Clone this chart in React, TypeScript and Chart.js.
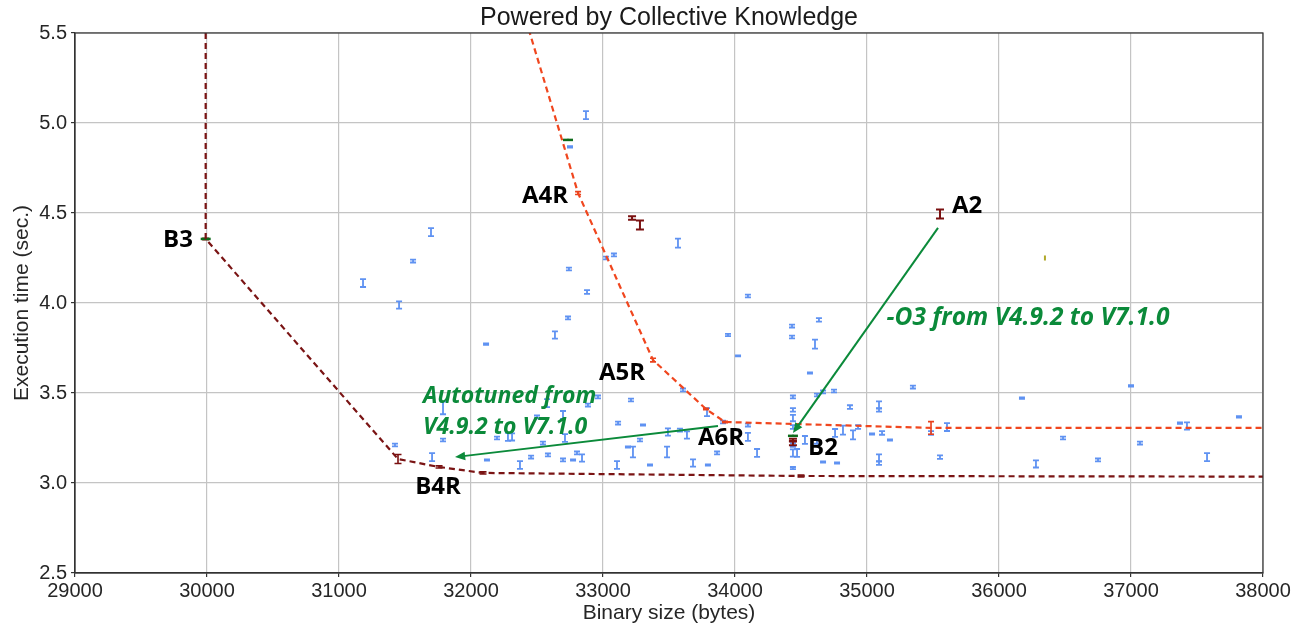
import { useEffect, useRef } from "react"
import { Chart, registerables } from "chart.js"

Chart.register(...registerables)

// blue: all measured configurations (size, time, half error)
const blueX = [
  31697, 31561, 31182, 31455, 32114, 32742, 32879, 32735, 32636, 33023, 33083, 32871, 32750, 33568, 34098,
  34432, 34432, 34636, 34606, 33947, 34023, 34568, 35348, 37000, 36174, 37818, 36485, 36280, 36750, 37068,
  37424, 37371, 37576, 35606, 35553, 35485, 34439, 34439, 34439, 34439, 34439, 34439, 34439, 34621, 34667,
  34750, 34871, 35091, 35091, 35091, 35091, 34167, 33864, 33682, 33795, 34098, 34098, 33788, 33909, 33636,
  34530, 34621, 34758, 34818, 34894, 34470, 34773, 34667, 35038, 35174, 34932, 35114, 31424, 31705, 31788,
  31788, 32121, 32197, 32280, 32311, 32371, 32455, 32545, 32576, 32583, 32697, 32712, 32697, 32773, 32803,
  32841, 32886, 32962, 33114, 33212, 33303, 33227, 33106, 33280, 33485, 33492, 33583, 33356, 33189, 32500,
  33606,
]
const blueY = [
  4.394, 4.233, 4.111, 3.989, 3.772, 4.189, 4.061, 3.917, 3.822, 4.25, 4.267, 5.044, 4.867, 4.333, 4.039,
  3.872, 3.811, 3.906, 3.772, 3.822, 3.706, 3.611, 3.533, 3.539, 3.472, 3.367, 3.25, 3.106, 3.128, 3.222,
  3.317, 3.333, 3.144, 3.311, 3.144, 3.278, 3.478, 3.406, 3.361, 3.311, 3.211, 3.167, 3.083, 3.489, 3.506,
  3.511, 3.422, 3.433, 3.406, 3.139, 3.111, 3.167, 3.167, 3.111, 3.1, 3.256, 3.322, 3.394, 3.339, 3.267,
  3.239, 3.228, 3.278, 3.294, 3.267, 3.167, 3.111, 3.117, 3.272, 3.239, 3.311, 3.278, 3.211, 3.144, 3.239,
  3.417, 3.128, 3.25, 3.256, 3.256, 3.1, 3.144, 3.222, 3.444, 3.156, 3.378, 3.25, 3.128, 3.128, 3.167,
  3.139, 3.433, 3.478, 3.333, 3.461, 3.322, 3.172, 3.1, 3.239, 3.172, 3.283, 3.294, 3.1, 3.2, 3.367,
  3.517,
]
const blueErr = [
  0.022, 0.008, 0.022, 0.02, 0.004, 0.008, 0.01, 0.008, 0.02, 0.008, 0.008, 0.022, 0.004, 0.025, 0.008,
  0.008, 0.008, 0.01, 0.025, 0.006, 0.003, 0.003, 0.008, 0.004, 0.004, 0.004, 0.008, 0.02, 0.008, 0.008,
  0.02, 0.004, 0.022, 0.022, 0.01, 0.01, 0.008, 0.01, 0.018, 0.01, 0.01, 0.02, 0.006, 0.008, 0.008,
  0.008, 0.01, 0.02, 0.01, 0.02, 0.01, 0.022, 0.008, 0.02, 0.003, 0.022, 0.008, 0.022, 0.008, 0.02,
  0.022, 0.01, 0.022, 0.025, 0.025, 0.022, 0.003, 0.003, 0.003, 0.003, 0.01, 0.01, 0.008, 0.022, 0.008,
  0.035, 0.003, 0.008, 0.022, 0.02, 0.022, 0.008, 0.008, 0.022, 0.008, 0.022, 0.022, 0.008, 0.003, 0.008,
  0.02, 0.008, 0.008, 0.008, 0.008, 0.003, 0.03, 0.022, 0.008, 0.03, 0.02, 0.008, 0.003, 0.003, 0.008,
  0.008,
]

// Pareto frontier B (dark red)
const frontBX = [29990, 29990, 31447, 31758, 32091, 34500, 38500]
const frontBY = [6.0, 4.356, 3.133, 3.089, 3.056, 3.039, 3.035]
const frontBErr = [null, 0.004, 0.025, 0.006, 0.006, 0.005, null]

// Pareto frontier A (orange red)
const frontAX = [32240, 32811, 33379, 33780, 33924, 35485, 38500]
const frontAY = [6.0, 4.611, 3.683, 3.411, 3.339, 3.306, 3.306]
const frontAErr = [null, 0.008, 0.01, 0.004, 0.004, 0.035, null]

// reference points (dark red)
const refX = [33220, 33280, 35553, 34439, 34439]
const refY = [4.472, 4.433, 4.494, 3.222, 3.238]
const refErr = [0.01, 0.025, 0.025, 0.012, 0.008]

// green markers
const greenX = [29990, 32735, 34439]
const greenY = [4.356, 4.906, 3.262]

// olive marker
const oliveX = [36348]
const oliveY = [4.25]

const xTicks = [29000, 30000, 31000, 32000, 33000, 34000, 35000, 36000, 37000, 38000]
const yTicks = [2.5, 3.0, 3.5, 4.0, 4.5, 5.0, 5.5]

const pointLabels = ["B3", "A4R", "A2", "A5R", "A6R", "B2", "B4R"]
const pointLabelX = [29780, 32561, 35758, 33144, 33894, 34667, 31750]
const pointLabelY = [4.35, 4.594, 4.539, 3.611, 3.25, 3.194, 2.978]

const noteLines = ["-O3 from V4.9.2 to V7.1.0", "Autotuned from", "V4.9.2 to V7.1.0"]
const noteX = [36220, 31636, 31636]
const noteY = [3.917, 3.483, 3.31]

const arrowFrom = [[35538, 4.417], [33871, 3.317]]
const arrowTo = [[34439, 3.278], [31879, 3.144]]

const pts = (xs: number[], ys: number[]) => xs.map((x, i) => ({ x, y: ys[i] }))

const errorBars = {
  id: "errorBars",
  beforeDatasetsDraw(chart: any) {
    const { ctx, chartArea: a } = chart
    const ys = chart.scales.y
    ctx.save()
    ctx.beginPath()
    ctx.rect(a.left, a.top, a.right - a.left, a.bottom - a.top)
    ctx.clip()
    chart.data.datasets.forEach((ds: any, i: number) => {
      if (!ds.errors) return
      const meta = chart.getDatasetMeta(i)
      ctx.strokeStyle = ds.errorColor
      ctx.lineWidth = ds.errorWidth || 1.6
      meta.data.forEach((el: any, j: number) => {
        const e = ds.errors[j]
        if (e == null) return
        const v = ds.data[j].y
        const top = ys.getPixelForValue(v + e)
        const bot = ys.getPixelForValue(v - e)
        const c = ds.capWidth / 2
        ctx.beginPath()
        ctx.moveTo(el.x, top)
        ctx.lineTo(el.x, bot)
        if (c > 0) {
          ctx.moveTo(el.x - c, top)
          ctx.lineTo(el.x + c, top)
          ctx.moveTo(el.x - c, bot)
          ctx.lineTo(el.x + c, bot)
        }
        ctx.stroke()
      })
    })
    ctx.restore()
  },
}

const annotations = {
  id: "annotations",
  afterDatasetsDraw(chart: any) {
    const { ctx, chartArea: a } = chart
    const xs = chart.scales.x
    const ys = chart.scales.y
    ctx.save()
    // frame round the plot
    ctx.strokeStyle = "#333"
    ctx.lineWidth = 1.2
    ctx.strokeRect(a.left, a.top, a.right - a.left, a.bottom - a.top)

    // arrows
    const green = "#0b8a3a"
    ctx.strokeStyle = green
    ctx.fillStyle = green
    ctx.lineWidth = 2
    arrowFrom.forEach((f, i) => {
      const x1 = xs.getPixelForValue(f[0])
      const y1 = ys.getPixelForValue(f[1])
      const x2 = xs.getPixelForValue(arrowTo[i][0])
      const y2 = ys.getPixelForValue(arrowTo[i][1])
      const ang = Math.atan2(y2 - y1, x2 - x1)
      const len = 11
      ctx.beginPath()
      ctx.moveTo(x1, y1)
      ctx.lineTo(x2 - Math.cos(ang) * 6, y2 - Math.sin(ang) * 6)
      ctx.stroke()
      ctx.beginPath()
      ctx.moveTo(x2, y2)
      ctx.lineTo(x2 - len * Math.cos(ang - 0.4), y2 - len * Math.sin(ang - 0.4))
      ctx.lineTo(x2 - len * Math.cos(ang + 0.4), y2 - len * Math.sin(ang + 0.4))
      ctx.closePath()
      ctx.fill()
    })

    // point names
    ctx.fillStyle = "#000"
    ctx.font = "bold 24px 'Open Sans'"
    ctx.textAlign = "center"
    ctx.textBaseline = "middle"
    pointLabels.forEach((t, i) => {
      ctx.fillText(t, xs.getPixelForValue(pointLabelX[i]), ys.getPixelForValue(pointLabelY[i]))
    })

    // green notes
    ctx.fillStyle = green
    noteLines.forEach((t, i) => {
      ctx.font = i === 0 ? "italic bold 24.5px 'Open Sans'" : "italic bold 23px 'Open Sans'"
      ctx.textAlign = i === 0 ? "center" : "left"
      ctx.fillText(t, xs.getPixelForValue(noteX[i]), ys.getPixelForValue(noteY[i]))
    })
    ctx.restore()
  },
}

const App = () => {
  const chartRef = useRef<HTMLCanvasElement>(null)
  const chartInstance = useRef<Chart | null>(null)

  useEffect(() => {
    document.body.style.margin = "0"
    if (!chartRef.current) return
    if (chartInstance.current) chartInstance.current.destroy()

    const font = "'Liberation Sans', Arial, sans-serif"
    chartInstance.current = new Chart(chartRef.current, {
      type: "scatter",
      data: {
        datasets: [
          {
            label: "configurations",
            data: pts(blueX, blueY),
            errors: blueErr,
            errorColor: "#5f92f2",
            capWidth: 6,
            errorWidth: 1.8,
            pointRadius: 0,
            showLine: false,
          } as any,
          {
            label: "frontier B",
            data: pts(frontBX, frontBY),
            errors: frontBErr,
            errorColor: "#7a1010",
            capWidth: 7,
            showLine: true,
            borderColor: "#7a1414",
            borderWidth: 2.2,
            borderDash: [6, 4],
            pointRadius: 0,
          } as any,
          {
            label: "frontier A",
            data: pts(frontAX, frontAY),
            errors: frontAErr,
            errorColor: "#e8401c",
            capWidth: 6,
            showLine: true,
            borderColor: "#f0461e",
            borderWidth: 2.2,
            borderDash: [6, 4],
            pointRadius: 0,
          } as any,
          {
            label: "reference",
            data: pts(refX, refY),
            errors: refErr,
            errorColor: "#7a1010",
            capWidth: 8,
            errorWidth: 2,
            pointRadius: 0,
            showLine: false,
          } as any,
          {
            label: "green",
            data: pts(greenX, greenY),
            errors: greenX.map(() => 0.006),
            errorColor: "#0d6b1a",
            capWidth: 0,
            errorWidth: 2,
            pointStyle: "line",
            pointRadius: 5,
            borderColor: "#0d6b1a",
            borderWidth: 2.5,
            showLine: false,
          } as any,
          {
            label: "olive",
            data: pts(oliveX, oliveY),
            errors: [0.014],
            errorColor: "#b0a82a",
            capWidth: 0,
            errorWidth: 2,
            pointRadius: 0,
            showLine: false,
          } as any,
        ],
      },
      options: {
        responsive: true,
        maintainAspectRatio: false,
        animation: false,
        layout: { padding: { left: 0, right: 41, top: 0, bottom: 0 } },
        plugins: {
          legend: { display: false },
          tooltip: { enabled: false },
          title: {
            display: true,
            fullSize: false,
            text: "Powered by Collective Knowledge",
            color: "#1a1a1a",
            font: { size: 25, family: font, weight: "normal" },
            padding: { top: 3, bottom: 0 },
          },
        },
        scales: {
          x: {
            type: "linear",
            min: 29000,
            max: 38000,
            afterFit: (s: any) => {
              s.height = 58
            },
            afterBuildTicks: (s: any) => {
              s.ticks = xTicks.map((v) => ({ value: v }))
            },
            ticks: {
              color: "#262626",
              font: { size: 20, family: font },
              padding: 2,
              maxRotation: 0,
              callback: (v: any) => String(v),
            },
            grid: { color: "#c4c4c4", lineWidth: 1.2, tickLength: 4, tickColor: "#333" },
            border: { color: "#333", width: 1.2 },
            title: {
              display: true,
              text: "Binary size (bytes)",
              color: "#262626",
              font: { size: 21, family: font },
              padding: { top: 0, bottom: 5 },
            },
          },
          y: {
            type: "linear",
            min: 2.5,
            max: 5.5,
            afterFit: (s: any) => {
              s.width = 75
            },
            afterBuildTicks: (s: any) => {
              s.ticks = yTicks.map((v) => ({ value: v }))
            },
            ticks: {
              color: "#262626",
              font: { size: 20, family: font },
              padding: 4,
              callback: (v: any) => Number(v).toFixed(1),
            },
            grid: { color: "#c4c4c4", lineWidth: 1.2, tickLength: 4, tickColor: "#333" },
            border: { color: "#333", width: 1.2 },
            title: {
              display: true,
              text: "Execution time (sec.)",
              color: "#262626",
              font: { size: 21, family: font },
              padding: { top: 10, bottom: 0 },
            },
          },
        },
      },
      plugins: [errorBars, annotations],
    } as any)

    return () => {
      if (chartInstance.current) {
        chartInstance.current.destroy()
        chartInstance.current = null
      }
    }
  }, [])

  return (
    <div style={{ position: "relative", width: 1304, height: 631 }}>
      <canvas ref={chartRef} />
    </div>
  )
}

export default App
